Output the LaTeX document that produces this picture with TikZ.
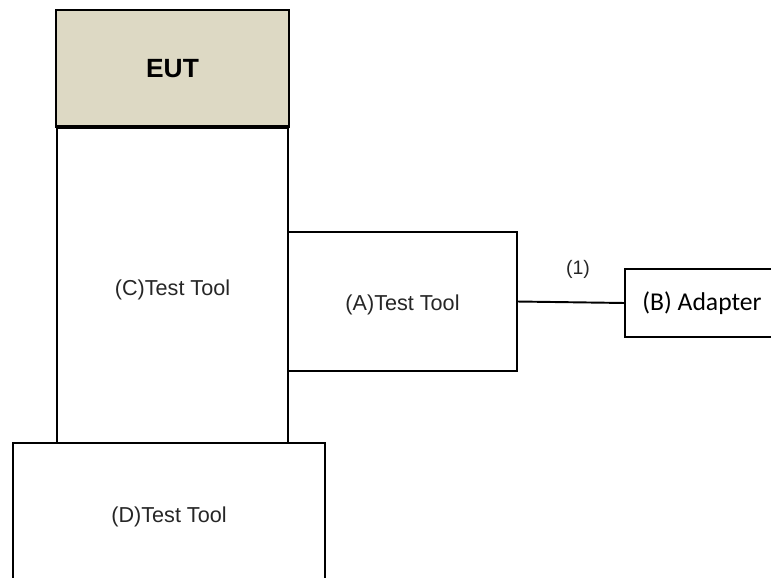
\documentclass[tikz,border=0pt]{standalone}
\usepackage{fontspec}
\setmainfont{Liberation Sans}
\newfontfamily\calibrifont{Carlito}
\usetikzlibrary{positioning}
\definecolor{eutfill}{RGB}{221,217,196}
\tikzset{
	toolbox/.style={draw, line width=1.1pt, inner sep=0pt, outer sep=0pt, font=\fontsize{12.3}{14}\selectfont, text=black!85, text height=11.5pt, text depth=2.6pt},
	adapterbox/.style={draw, line width=1.1pt, inner sep=0pt, outer sep=0pt, font=\calibrifont\fontsize{14.6}{17}\selectfont}
}
\begin{document}
\begin{tikzpicture}[x=0.02cm,y=-0.02cm]
			% Frame of the picture
			\clip (0,0) rectangle (771,578);
			% Test tools round the EUT
			\node[toolbox, minimum width=4.62cm, minimum height=6.32cm, text height=15pt] (toolC) at (172.5,285) {(C)Test Tool};
			\node[toolbox, minimum width=4.58cm, minimum height=2.78cm, text height=12.5pt] (toolA) at (402.5,301.5) {(A)Test Tool};
			\node[toolbox, minimum width=6.24cm, minimum height=2.88cm] (toolD) at (169,515) {(D)Test Tool};
			% EUT on top
			\node[toolbox, fill=eutfill, minimum width=4.66cm, minimum height=2.34cm, font=\bfseries\fontsize{15}{18}\selectfont, text=black, text height=10.7pt, text depth=0pt] (eut) at (172.5,68.5) {EUT};
			\draw[line width=2pt] (eut.south west) -- (eut.south east);
			% Adapter and its cable
			\node[adapterbox, minimum width=3.08cm, minimum height=1.36cm] (adapterB) at (702,303) {(B) Adapter};
			\draw[line width=1.1pt] (toolA.east) -- (adapterB.west);
			\node[font=\fontsize{11.1}{13}\selectfont, text=black!85] (cable1) at (578,269) {(1)};
\end{tikzpicture}
\end{document}
